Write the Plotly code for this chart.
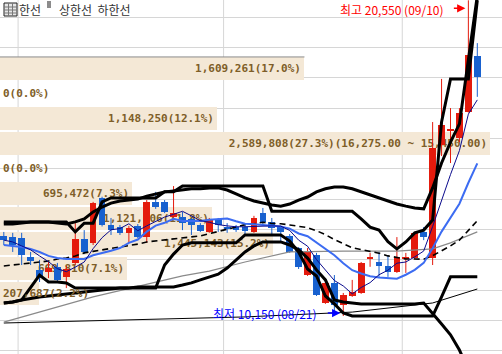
import plotly.graph_objects as go

# ---------------- data ----------------
dates = ["06/29", "06/30",
         "07/01", "07/02", "07/03", "07/06", "07/07", "07/08", "07/09", "07/10",
         "07/13", "07/14", "07/15", "07/16", "07/17", "07/20", "07/21", "07/22",
         "07/23", "07/24", "07/27", "07/28", "07/29", "07/30", "07/31",
         "08/03", "08/04", "08/05", "08/06", "08/07", "08/10", "08/11", "08/12",
         "08/13", "08/14", "08/18", "08/19", "08/20", "08/21", "08/24", "08/25",
         "08/26", "08/27", "08/28", "08/31",
         "09/01", "09/02", "09/03", "09/04", "09/07", "09/08", "09/09", "09/10", "09/11"]

opens = [12790, 12750, 12720, 12090, 11670, 11600, 11770, 11440, 11900, 12690,
         12560, 14040, 13150, 13080, 12890, 13120, 12750, 13910, 13910, 13410,
         13410, 13350, 13150, 12920, 13350, 13080, 13080, 13080, 12920, 13540,
         13250, 13080, 12790, 12390, 11500, 12160, 10580, 11240, 10510, 10810,
         10910, 12060, 11930, 11800, 11600, 12060, 12060, 12920, 12060, 15780,
         16250, 16010, 16870, 18720]
highs = [12920, 12890, 12890, 12260, 12000, 11930, 11900, 11800, 13210, 12980,
         13910, 14080, 13380, 13150, 13120, 13180, 13970, 14240, 13970, 14430,
         13580, 13380, 13210, 13380, 13380, 13210, 13150, 13150, 13450, 13710,
         13380, 13120, 12850, 12420, 12390, 12230, 11340, 11500, 10910, 11340,
         11930, 12230, 12260, 12160, 12750, 12230, 12920, 13080, 16540, 17960,
         17000, 17000, 20550, 19140]
lows = [12490, 12260, 11830, 11830, 11270, 11400, 11240, 11070, 11830, 12190,
        12490, 13100, 12820, 12820, 12560, 12720, 12560, 13680, 13540, 13380,
        12980, 12820, 12920, 12890, 12920, 12890, 12920, 12820, 12890, 13150,
        12820, 12620, 12230, 11700, 11470, 10810, 10550, 10250, 10150, 10780,
        10880, 11770, 11440, 11440, 11570, 11570, 12030, 12650, 11830, 15420,
        15190, 15880, 16850, 17370]
closes = [12650, 12490, 12160, 11960, 11400, 11730, 11340, 11700, 12690, 12260,
          13870, 13150, 12980, 12890, 13050, 12750, 13910, 13740, 13580, 13540,
          13210, 13150, 12950, 13350, 13150, 13020, 12980, 12950, 13380, 13250,
          13050, 12920, 12260, 11770, 12260, 10840, 11240, 10510, 10840, 10940,
          11900, 12090, 11800, 11600, 12090, 12090, 12890, 12750, 15690, 16440,
          16310, 16840, 18750, 18020]

ma5 = [12650, 12590, 12460, 12330, 12130, 11940, 11710, 11610, 11760, 11930,
       12370, 12730, 12990, 13030, 13190, 12960, 13120, 13270, 13410, 13500,
       13600, 13450, 13290, 13240, 13160, 13120, 13090, 13090, 13100, 13120,
       13120, 13110, 12970, 12650, 12450, 12010, 11670, 11320, 11140, 10880,
       11090, 11250, 11510, 11660, 11890, 11930, 12100, 12290, 13100, 13970,
       14810, 15600, 16800, 17270]
ma10 = [12490, 12460, 12420, 12360, 12260, 12130, 12060, 12030, 12030, 12030,
        12150, 12220, 12300, 12390, 12560, 12670, 12930, 13130, 13220, 13350,
        13280, 13280, 13280, 13320, 13330, 13360, 13270, 13190, 13170, 13140,
        13120, 13100, 13030, 12870, 12780, 12570, 12390, 12150, 11890, 11660,
        11550, 11460, 11420, 11400, 11380, 11510, 11670, 11900, 12380, 12930,
        13370, 13850, 14540, 15180]
ma20 = [11800, 11830, 11860, 11900, 11930, 11960, 12030, 12060, 12130, 12230,
        12280, 12330, 12360, 12420, 12460, 12520, 12590, 12620, 12650, 12690,
        12720, 12750, 12790, 12860, 12940, 13010, 13100, 13160, 13190, 13240,
        13200, 13190, 13150, 13100, 13060, 12960, 12830, 12670, 12530, 12400,
        12340, 12280, 12220, 12130, 12080, 12030, 12030, 12020, 12140, 12300,
        12460, 12650, 12980, 13290]
ma60_idx = [0, 10, 20, 23, 27, 30, 32, 38, 44, 48, 50, 53]
ma60 = [9950, 10780, 11470, 11630, 11930, 12130, 12260, 12290, 12290, 12360, 12560, 12920]
ma120_idx = [0, 27, 39, 48, 53]
ma120 = [9920, 10120, 10280, 10580, 11040]

ch_upper = [13250] * 8 + [12920, 13210, 13210, 13910] + [14040] * 6 + [14240] * 2 + \
           [14430] * 10 + [13600] * 10 + \
           [13350, 13080, 12980, 12600, 12360, 12590, 12890, 12980, 13310, 16540,
            17960, 17960, 17960, 20550]
ch_lower = [10580, 10610, 10680, 11070, 11500, 11270, 11270, 11240] + [11070] * 10 + \
           [11830, 12190, 12490] + [12560] * 6 + [12820] * 5 + \
           [12620, 12260, 11700, 11470, 10810, 10550, 10250] + [10150] * 10 + \
           [10780, 11440, 11440, 11440, 11440]
bb_upper = [13180, 13180, 13210, 13250, 13250, 13250, 13210, 13180, 13250, 13350,
            13580, 13740, 13870, 13940, 13970, 14000, 14100, 14170, 14240, 14270,
            14300, 14340, 14340, 14370, 14370, 14300, 14170, 14040, 13940, 13870,
            13810, 13770, 13840, 13970, 14070, 14240, 14340, 14400, 14400, 14340,
            14240, 14140, 14040, 13940, 13840, 13770, 13710, 13680, 14370, 15190,
            15880, 16480, 18600, 20700]
bb_lower = [10580, 10610, 10680, 10740, 10780, 10810, 10840, 10880, 10910, 10940,
            10970, 11010, 11040, 11070, 11070, 11110, 11110, 11110, 11110, 11110,
            11170, 11240, 11340, 11440, 11530, 11730, 12000, 12260, 12460, 12590,
            12590, 12590, 12490, 12330, 12060, 11670, 11340, 10680, 10610, 10580,
            10550, 10550, 10550, 10550, 10550, 10550, 10550, 10580, 10250, 9890,
            9530, 9030, 8370, 8000]

# volume profile (price bins)
vp_lo = [10500, 11325, 12150, 12975, 13800, 14625, 15450, 16275, 17100, 17925]
vp_hi = [11325, 12150, 12975, 13800, 14625, 15450, 16275, 17100, 17925, 18750]
vp_vol = [207687, 669810, 1445143, 1121006, 695472, 0, 2589808, 1148250, 0, 1609261]

# ---------------- styles ----------------
RED = "#E41B0D"
BLUE = "#1861CF"
BEIGE = "#F4E8D6"
BROWN = "#7E5E28"
W, H = 502, 354
PX_PER_IDX = 8.934
X0_PX = 3.8
Y_TOP, Y_BOT = 20560, 8899
FILL = 0.92  # fraction of a price bin covered by its bar

n = len(dates)
idx = list(range(n))
total = sum(vp_vol)
vmax = max(vp_vol)
bar_full_px = 490.0

fig = go.Figure()

# volume profile bars (base subplot)
texts, small = [], []
for lo, hi, v in zip(vp_lo, vp_hi, vp_vol):
    t = f"{v:,}({v / total * 100:.1f}%)"
    if v == vmax:
        t += f"({hi:,.2f} ~ {lo:,.2f})"
    fits = len(t) * 6.7 + 8 < bar_full_px * v / vmax
    texts.append(f"<b>{t}</b>" if fits else "")
    small.append((None if fits else t, lo + (hi - lo) * FILL / 2))

fig.add_trace(go.Bar(
    x=vp_vol, y=vp_lo, orientation="h", offset=0,
    width=[(b - a) * FILL for a, b in zip(vp_lo, vp_hi)],
    marker=dict(color=BEIGE, line=dict(width=0)),
    text=texts, textposition="inside", insidetextanchor="end",
    textfont=dict(family="DejaVu Sans Mono", size=11, color=BROWN),
    xaxis="x", yaxis="y", hoverinfo="skip"))

# candles: wicks
for col, cond in ((RED, lambda o, c: c >= o), (BLUE, lambda o, c: c < o)):
    wx, wy = [], []
    for i in idx:
        if cond(opens[i], closes[i]):
            wx += [i, i, None]
            wy += [lows[i], highs[i], None]
    fig.add_trace(go.Scatter(x=wx, y=wy, mode="lines", line=dict(color=col, width=1),
                             xaxis="x2", yaxis="y", hoverinfo="skip"))

# candle bodies
fig.add_trace(go.Bar(
    x=idx, y=[max(abs(c - o), 28) for o, c in zip(opens, closes)],
    base=[min(o, c) for o, c in zip(opens, closes)],
    width=0.75,
    marker=dict(color=[RED if c >= o else BLUE for o, c in zip(opens, closes)],
                line=dict(width=0)),
    xaxis="x2", yaxis="y", hoverinfo="skip"))

# moving averages
fig.add_trace(go.Scatter(x=ma120_idx, y=ma120, mode="lines",
                         line=dict(color="#000000", width=1), xaxis="x2", yaxis="y"))
fig.add_trace(go.Scatter(x=ma60_idx, y=ma60, mode="lines",
                         line=dict(color="#8A8A8A", width=1.2), xaxis="x2", yaxis="y"))
fig.add_trace(go.Scatter(x=idx, y=ma20, mode="lines",
                         line=dict(color="#000000", width=1.6, dash="6px,4px"),
                         xaxis="x2", yaxis="y"))
fig.add_trace(go.Scatter(x=idx, y=ma10, mode="lines",
                         line=dict(color="#3C6CF2", width=2), xaxis="x2", yaxis="y"))
fig.add_trace(go.Scatter(x=idx, y=ma5, mode="lines",
                         line=dict(color="#0A0A8C", width=1), xaxis="x2", yaxis="y"))
# bands
for band in (bb_upper, bb_lower, ch_upper, ch_lower):
    fig.add_trace(go.Scatter(x=idx, y=band, mode="lines",
                             line=dict(color="#000000", width=3), xaxis="x2", yaxis="y"))

# ---------------- annotations ----------------
ann = []
for t, yc in small:
    if t:
        ann.append(dict(x=0, xref="paper", y=yc, yref="y", text=f"<b>{t}</b>",
                        showarrow=False, xanchor="left", xshift=1,
                        font=dict(family="DejaVu Sans Mono", size=11, color=BROWN)))

ih = highs.index(max(highs))
il = lows.index(min(lows))
ann.append(dict(x=ih, y=highs[ih], xref="x2", yref="y", ax=-16, ay=0, showarrow=True,
                arrowhead=2, arrowsize=1.1, arrowwidth=1.5, arrowcolor="#FF0000",
                standoff=3, text="", yshift=-8))
ann.append(dict(x=ih, y=highs[ih], xref="x2", yref="y", showarrow=False,
                text=f"최고 {highs[ih]:,} ({dates[ih]})", xanchor="right", xshift=-22,
                yshift=-9, font=dict(family="Noto Sans CJK KR", size=12, color="#FF0000")))
ann.append(dict(x=il, y=lows[il], xref="x2", yref="y", ax=-17, ay=0, showarrow=True,
                arrowhead=2, arrowsize=1.1, arrowwidth=1.5, arrowcolor="#0000FF",
                standoff=3, text="", yshift=3))
ann.append(dict(x=il, y=lows[il], xref="x2", yref="y", showarrow=False,
                text=f"최저 {lows[il]:,} ({dates[il]})", xanchor="right", xshift=-24,
                yshift=3, font=dict(family="Noto Sans CJK KR", size=12, color="#0000FF")))

# legend strip at top-left
LEG_Y = 1 - 9 / H
ann.append(dict(x=17 / W, y=LEG_Y, xref="paper", yref="paper", showarrow=False,
                text="한선", xanchor="left", yanchor="middle",
                font=dict(family="Noto Sans CJK KR", size=12, color="#333333")))
ann.append(dict(x=57 / W, y=LEG_Y, xref="paper", yref="paper", showarrow=False,
                text="상한선  하한선", xanchor="left", yanchor="middle",
                font=dict(family="Noto Sans CJK KR", size=12, color="#333333")))

shapes = []
# month boundary gridlines
for i in range(1, n):
    if dates[i][:2] != dates[i - 1][:2]:
        shapes.append(dict(type="line", xref="x2", yref="paper", x0=i - 0.4, x1=i - 0.4,
                           y0=0, y1=1, line=dict(color="#D6D6D6", width=1), layer="below"))
# darker edge on top of the uppermost profile bar
top_lo, top_hi = vp_lo[-1], vp_hi[-1]
edge_y = top_lo + (top_hi - top_lo) * FILL
shapes.append(dict(type="line", xref="x", yref="y", x0=0, x1=vp_vol[-1],
                   y0=edge_y, y1=edge_y, line=dict(color="#8C8C8C", width=1),
                   layer="above"))
# legend icon
shapes.append(dict(type="rect", xref="paper", yref="paper", x0=4 / W, x1=17 / W,
                   y0=1 - 16 / H, y1=1 - 3 / H, line=dict(color="#222222", width=1),
                   fillcolor="#E6E6E6"))
for yy in (7, 10, 13):
    shapes.append(dict(type="line", xref="paper", yref="paper", x0=4 / W, x1=17 / W,
                       y0=1 - yy / H, y1=1 - yy / H, line=dict(color="#777777", width=1)))
for xx in (8.5, 12.5):
    shapes.append(dict(type="line", xref="paper", yref="paper", x0=xx / W, x1=xx / W,
                       y0=1 - 16 / H, y1=1 - 3 / H, line=dict(color="#777777", width=1)))
shapes.append(dict(type="rect", xref="paper", yref="paper", x0=47 / W, x1=51 / W,
                   y0=1 - 8 / H, y1=1 - 1 / H, line=dict(width=0), fillcolor="#8C8C8C"))

fig.update_layout(
    width=W, height=H, margin=dict(l=0, r=0, t=0, b=0),
    paper_bgcolor="white", plot_bgcolor="white",
    showlegend=False, barmode="overlay", bargap=0,
    xaxis=dict(range=[0, vmax * W / bar_full_px], visible=False, fixedrange=True),
    xaxis2=dict(range=[-X0_PX / PX_PER_IDX, (W - X0_PX) / PX_PER_IDX], overlaying="x",
                visible=False, fixedrange=True),
    yaxis=dict(range=[Y_BOT, Y_TOP], dtick=1000, tick0=0, showgrid=True,
               gridcolor="#D6D6D6", gridwidth=1, zeroline=False, showticklabels=False,
               ticks="", showline=False, fixedrange=True),
    annotations=ann, shapes=shapes,
)

fig.write_html("out.html")
